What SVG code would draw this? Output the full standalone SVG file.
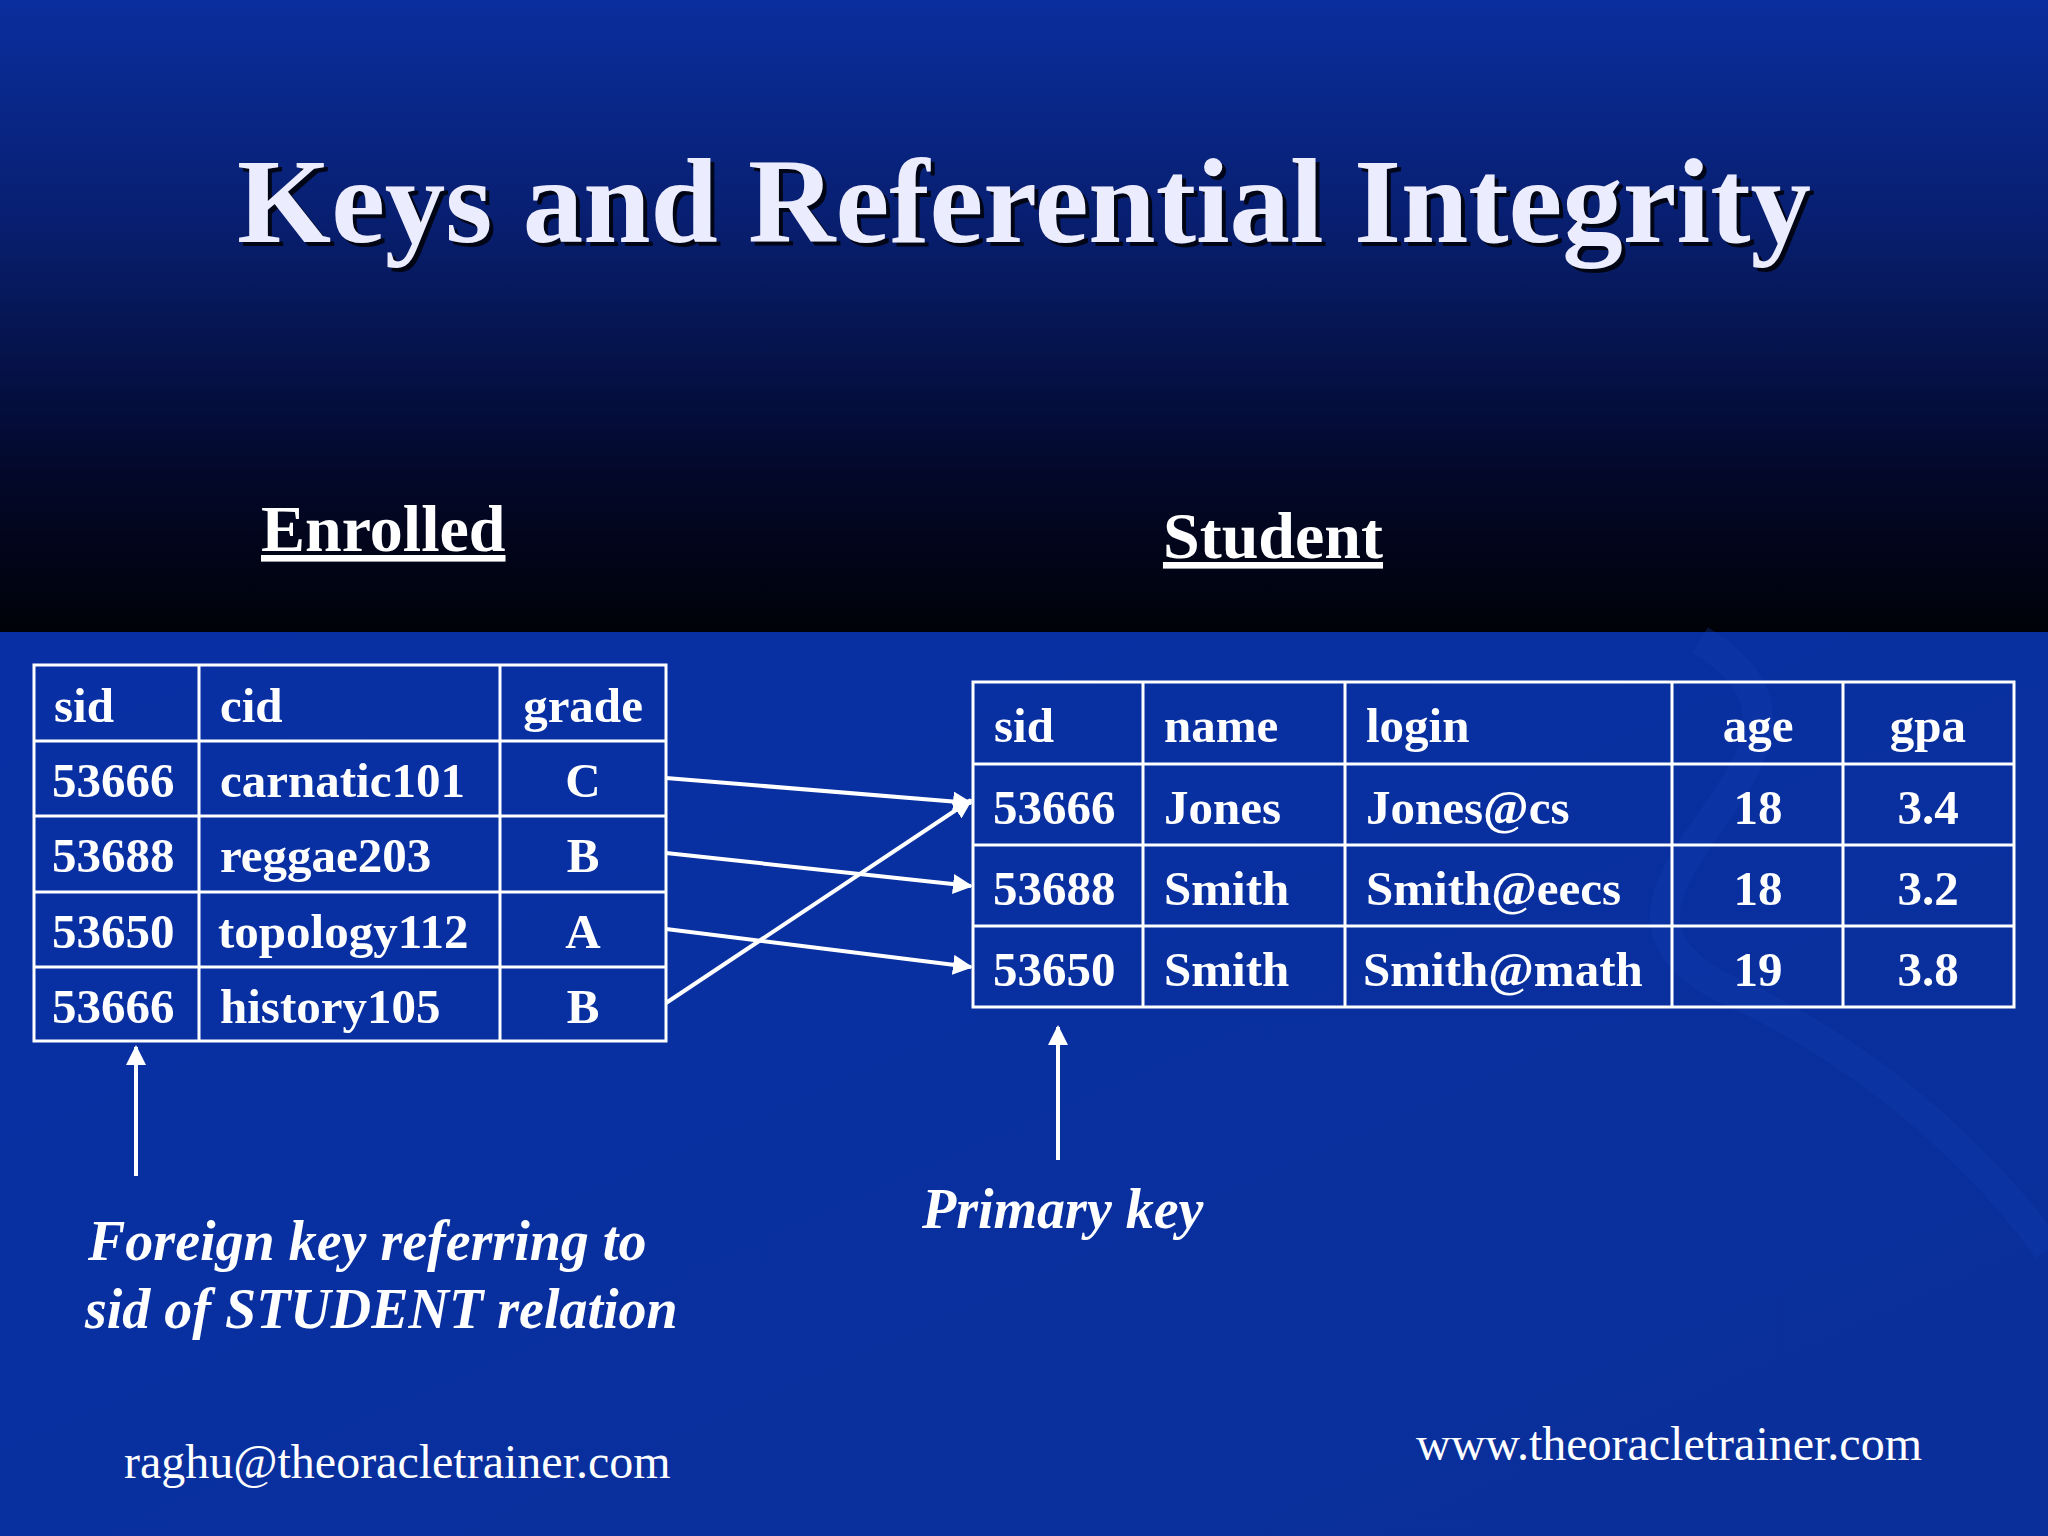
<svg xmlns="http://www.w3.org/2000/svg" width="2048" height="1536" viewBox="0 0 2048 1536">
<defs>
<linearGradient id="top" x1="0" y1="0" x2="0" y2="1">
<stop offset="0" stop-color="#0a2e9e"/><stop offset="0.35" stop-color="#081f70"/><stop offset="0.75" stop-color="#03082a"/><stop offset="1" stop-color="#000208"/>
</linearGradient>
<linearGradient id="bot" x1="0" y1="0" x2="1" y2="1">
<stop offset="0" stop-color="#0830a4"/><stop offset="1" stop-color="#0a2f9a"/>
</linearGradient>
<marker id="ah" viewBox="0 0 10 10" refX="9" refY="5" markerWidth="5" markerHeight="5" orient="auto-start-reverse" markerUnits="strokeWidth">
<path d="M0,0 L10,5 L0,10 z" fill="#fff"/>
</marker>
<style>
.t{font-family:"Liberation Serif",serif;font-weight:bold;fill:#fff;font-size:49px}
.c{text-anchor:middle}
.g line,.g rect{stroke:#fff;stroke-width:3;fill:none}
.lab{font-family:"Liberation Serif",serif;font-weight:bold;font-style:italic;fill:#fff;font-size:56px}
.ft{font-family:"Liberation Serif",serif;fill:#fff;font-size:48px}
.cn line{stroke:#fff;stroke-width:4;marker-end:url(#ah)}
</style>
</defs>
<rect width="2048" height="632" fill="url(#top)"/>
<rect y="632" width="2048" height="904" fill="url(#bot)"/>
<path d="M1700,640 C1900,760 1500,900 1750,1000 C1950,1100 2048,1250 2048,1250" stroke="#1440b0" stroke-width="30" fill="none" opacity="0.3"/>
<g id="title">
<text x="1028" y="246" text-anchor="middle" font-family="Liberation Serif,serif" font-weight="bold" font-size="121" fill="#000" opacity="0.8">Keys and Referential Integrity</text>
<text x="1024" y="242" text-anchor="middle" font-family="Liberation Serif,serif" font-weight="bold" font-size="121" fill="#ececff">Keys and Referential Integrity</text>
</g>
<g id="enrolled-title"><text x="261" y="551" font-family="Liberation Serif,serif" font-weight="bold" font-size="66" fill="#fff" text-decoration="underline">Enrolled</text></g>
<g id="student-title"><text x="1273" y="558" text-anchor="middle" font-family="Liberation Serif,serif" font-weight="bold" font-size="66" fill="#fff" text-decoration="underline">Student</text></g>
<g id="enrolled-table" class="g">
<rect x="34" y="665" width="632" height="376"/>
<line x1="199" y1="665" x2="199" y2="1041"/><line x1="500" y1="665" x2="500" y2="1041"/>
<line x1="34" y1="741" x2="666" y2="741"/><line x1="34" y1="816" x2="666" y2="816"/><line x1="34" y1="892" x2="666" y2="892"/><line x1="34" y1="967" x2="666" y2="967"/>
<text class="t" x="54" y="722">sid</text><text class="t" x="220" y="722">cid</text><text class="t c" x="583" y="722">grade</text>
<text class="t" x="52" y="797">53666</text><text class="t" x="220" y="797">carnatic101</text><text class="t c" x="583" y="797">C</text>
<text class="t" x="52" y="872">53688</text><text class="t" x="220" y="872">reggae203</text><text class="t c" x="583" y="872">B</text>
<text class="t" x="52" y="948">53650</text><text class="t" x="218" y="948">topology112</text><text class="t c" x="583" y="948">A</text>
<text class="t" x="52" y="1023">53666</text><text class="t" x="220" y="1023">history105</text><text class="t c" x="583" y="1023">B</text>
</g>
<g id="student-table" class="g">
<rect x="973" y="682" width="1041" height="325"/>
<line x1="1143" y1="682" x2="1143" y2="1007"/><line x1="1345" y1="682" x2="1345" y2="1007"/><line x1="1672" y1="682" x2="1672" y2="1007"/><line x1="1843" y1="682" x2="1843" y2="1007"/>
<line x1="973" y1="764" x2="2014" y2="764"/><line x1="973" y1="845" x2="2014" y2="845"/><line x1="973" y1="926" x2="2014" y2="926"/>
<text class="t" x="994" y="742">sid</text><text class="t" x="1164" y="742">name</text><text class="t" x="1366" y="742">login</text><text class="t c" x="1758" y="742">age</text><text class="t c" x="1928" y="742">gpa</text>
<text class="t" x="993" y="824">53666</text><text class="t" x="1164" y="824">Jones</text><text class="t" x="1366" y="824">Jones@cs</text><text class="t c" x="1758" y="824">18</text><text class="t c" x="1928" y="824">3.4</text>
<text class="t" x="993" y="905">53688</text><text class="t" x="1164" y="905">Smith</text><text class="t" x="1366" y="905">Smith@eecs</text><text class="t c" x="1758" y="905">18</text><text class="t c" x="1928" y="905">3.2</text>
<text class="t" x="993" y="986">53650</text><text class="t" x="1164" y="986">Smith</text><text class="t" x="1363" y="986">Smith@math</text><text class="t c" x="1758" y="986">19</text><text class="t c" x="1928" y="986">3.8</text>
</g>
<g id="connectors" class="cn">
<line x1="666" y1="778" x2="971" y2="803"/>
<line x1="666" y1="853" x2="971" y2="886"/>
<line x1="666" y1="929" x2="971" y2="967"/>
<line x1="666" y1="1003" x2="971" y2="800"/>
<line x1="136" y1="1176" x2="136" y2="1047"/>
<line x1="1058" y1="1160" x2="1058" y2="1027"/>
</g>
<g id="fk-label"><text class="lab" x="88" y="1260">Foreign key referring to</text><text class="lab" x="85" y="1328">sid of STUDENT relation</text></g>
<g id="pk-label"><text class="lab" x="922" y="1228">Primary key</text></g>
<g id="footer"><text class="ft" x="124" y="1478">raghu@theoracletrainer.com</text><text class="ft" x="1922" y="1460" text-anchor="end">www.theoracletrainer.com</text></g>
</svg>
